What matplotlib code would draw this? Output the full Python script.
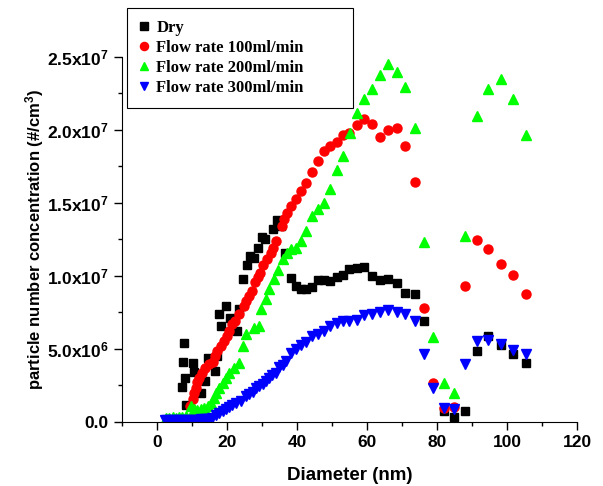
import matplotlib
matplotlib.use("Agg")
import matplotlib.pyplot as plt
from matplotlib.ticker import MultipleLocator

plt.rcParams['font.family'] = ['Liberation Sans', 'DejaVu Sans']
plt.rcParams['mathtext.fontset'] = 'custom'
plt.rcParams['mathtext.bf'] = 'Liberation Sans:bold'
plt.rcParams['mathtext.rm'] = 'Liberation Sans:bold'
plt.rcParams['mathtext.default'] = 'bf'

# Dry
dry_x = [7.3, 7.5, 7.9, 8.1, 8.3, 10.4, 10.7, 12.6, 13.8, 14.7, 16.7, 17.3, 17.8, 18.3,
         19.7, 20.9, 23.0, 23.5, 24.7, 25.7, 26.7, 27.8, 28.8, 29.9, 31.0, 33.1, 34.3,
         35.4, 36.7, 38.3, 39.7, 41.2, 42.6, 44.2, 45.9, 47.8, 49.5, 51.4, 53.1, 55.0,
         57.2, 59.3, 61.5, 63.8, 65.9, 68.5, 71.0, 73.6, 76.2, 81.9, 85.0, 88.1, 91.4,
         94.5, 98.2, 101.7, 105.5]
dry_y = [0.238, 0.41, 0.542, 0.303, 0.115, 0.405, 0.344, 0.20, 0.28, 0.44, 0.348, 0.45,
         0.736, 0.656, 0.793, 0.714, 0.622, 0.771, 0.981, 1.074, 1.136, 1.125, 1.193,
         1.268, 1.25, 1.318, 1.382, 1.341, 1.159, 0.983, 0.93, 0.912, 0.912, 0.926,
         0.971, 0.971, 0.964, 0.992, 1.003, 1.045, 1.056, 1.063, 0.999, 0.971, 0.981,
         0.953, 0.885, 0.873, 0.69, 0.074, 0.033, 0.074, 0.485, 0.588, 0.524, 0.467,
         0.405]

# Flow rate 100 ml/min
f100_x = [9.5, 10.2, 10.7, 11.2, 11.6, 12.1, 12.9, 13.8, 15.0, 15.9, 16.7, 17.3, 18.3,
          19.2, 19.9, 20.7, 21.6, 22.4, 23.5, 25.0, 25.6, 26.4, 27.3, 28.1, 28.8, 29.4,
          30.4, 31.6, 32.6, 33.3, 34.0, 35.7, 36.4, 37.3, 38.3, 39.7, 41.2, 42.6, 44.3,
          45.9, 47.6, 49.5, 51.4, 53.1, 55.0, 57.2, 59.3, 61.5, 63.8, 65.9, 68.5, 71.0,
          73.6, 76.2, 79.0, 81.9, 85.0, 88.1, 91.4, 94.5, 98.2, 101.7, 105.5]
f100_y = [0.108, 0.154, 0.20, 0.234, 0.273, 0.303, 0.337, 0.371, 0.394, 0.412, 0.451,
          0.485, 0.519, 0.553, 0.588, 0.622, 0.668, 0.69, 0.736, 0.793, 0.827, 0.862,
          0.896, 0.958, 0.994, 1.022, 1.072, 1.113, 1.154, 1.193, 1.238, 1.341, 1.387,
          1.433, 1.478, 1.524, 1.581, 1.634, 1.711, 1.786, 1.855, 1.889, 1.916, 1.962,
          1.976, 2.031, 2.077, 2.038, 1.953, 1.999, 2.015, 1.889, 1.645, 0.777, 0.264,
          0.097, 0.101, 0.93, 1.243, 1.182, 1.084, 1.003, 0.873]

# Flow rate 200 ml/min
f200_x = [2.6, 3.5, 4.5, 5.4, 6.4, 7.3, 8.3, 9.7, 10.7, 11.6, 12.6, 13.6, 14.5, 15.4,
          16.4, 17.0, 17.8, 18.8, 19.7, 20.7, 22.1, 23.5, 24.5, 25.5, 27.8, 29.3, 29.7,
          31.2, 32.1, 33.5, 34.7, 35.9, 37.1, 38.3, 39.7, 41.2, 42.6, 44.3, 45.9, 47.6,
          49.5, 51.4, 53.3, 55.2, 57.2, 59.3, 61.5, 63.8, 65.9, 68.5, 71.0, 73.6, 76.2,
          79.0, 82.0, 85.0, 88.1, 91.4, 94.5, 98.2, 101.7, 105.5]
f200_y = [0.029, 0.029, 0.03, 0.029, 0.032, 0.035, 0.04, 0.108, 0.086, 0.08, 0.086,
          0.095, 0.108, 0.132, 0.166, 0.20, 0.234, 0.268, 0.303, 0.337, 0.371, 0.405,
          0.519, 0.599, 0.645, 0.656, 0.771, 0.839, 0.908, 0.976, 1.038, 1.113, 1.159,
          1.182, 1.193, 1.238, 1.307, 1.41, 1.46, 1.501, 1.592, 1.725, 1.821, 1.981,
          2.118, 2.214, 2.277, 2.378, 2.449, 2.396, 2.296, 2.015, 1.234, 0.584, 0.264,
          0.20, 1.273, 2.095, 2.279, 2.347, 2.214, 1.962]

# Flow rate 300 ml/min
f300_x = [2.2, 3.0, 3.8, 4.6, 5.4, 6.2, 7.0, 7.8, 8.6, 9.4, 10.2, 11.0, 11.8, 12.6,
          13.4, 14.2, 15.0, 15.8, 16.9, 17.8, 18.8, 19.7, 20.7, 21.6, 22.6, 24.0, 25.5,
          26.4, 27.4, 28.3, 29.3, 30.2, 31.2, 32.1, 33.0, 34.0, 35.0, 35.9, 36.9, 38.3,
          39.7, 41.2, 42.6, 44.3, 45.9, 47.6, 49.5, 51.4, 53.1, 55.0, 57.2, 59.3, 61.5,
          63.8, 65.9, 68.5, 71.0, 73.6, 76.2, 79.0, 81.9, 85.0, 88.1, 91.4, 94.5, 98.2,
          101.7, 105.5]
f300_y = [0.01, 0.01, 0.012, 0.012, 0.012, 0.013, 0.013, 0.014, 0.014, 0.015, 0.015,
          0.016, 0.016, 0.017, 0.018, 0.02, 0.022, 0.028, 0.045, 0.06, 0.072, 0.086,
          0.10, 0.115, 0.132, 0.142, 0.177, 0.188, 0.205, 0.234, 0.245, 0.262, 0.279,
          0.303, 0.318, 0.337, 0.378, 0.39, 0.416, 0.469, 0.501, 0.524, 0.547, 0.588,
          0.599, 0.622, 0.656, 0.675, 0.69, 0.69, 0.697, 0.729, 0.736, 0.752, 0.766,
          0.752, 0.736, 0.69, 0.462, 0.234, 0.097, 0.086, 0.394, 0.553, 0.56, 0.531,
          0.492, 0.467]

scale = 1e7

fig = plt.figure(figsize=(6.03, 4.86), dpi=100)
ax = fig.add_axes([0.202, 0.132, 0.755, 0.751])

ax.plot(dry_x, [v * scale for v in dry_y], 's', color='black', ms=6, mec='black', label='Dry')
ax.plot(f100_x, [v * scale for v in f100_y], 'o', color='red', ms=6.5, mec='red', label='Flow rate 100ml/min')
ax.plot(f200_x, [v * scale for v in f200_y], '^', color='#00ff00', ms=7, mec='#00ff00', label='Flow rate 200ml/min')
ax.plot(f300_x, [v * scale for v in f300_y], 'v', color='blue', ms=7, mec='blue', label='Flow rate 300ml/min')

ax.set_xlim(-10, 120)
ax.set_ylim(0, 2.5e7)
ax.xaxis.set_major_locator(MultipleLocator(20))
ax.xaxis.set_minor_locator(MultipleLocator(10))
yticks = [0, 5e6, 1e7, 1.5e7, 2e7, 2.5e7]
ylabels = ['0.0', '5.0x10$^6$', '1.0x10$^7$', '1.5x10$^7$', '2.0x10$^7$', '2.5x10$^7$']
ax.set_yticks(yticks)
ax.set_yticklabels(ylabels)
ax.yaxis.set_minor_locator(MultipleLocator(2.5e6))

for lab in ax.get_xticklabels() + ax.get_yticklabels():
    lab.set_fontweight('bold')
    lab.set_fontsize(12.5)

ax.tick_params(which='major', direction='out', length=6, width=1)
ax.tick_params(which='minor', direction='out', length=3, width=1)
ax.spines['top'].set_visible(False)
ax.spines['right'].set_visible(False)

ax.set_xlabel('Diameter (nm)', fontsize=13.5, fontweight='bold', labelpad=12)
ax.set_ylabel('particle number concentration (#/cm$^3$)', fontsize=12, fontweight='bold',
              labelpad=1)

leg = fig.legend(loc='upper left',
                 bbox_to_anchor=(127 / 603, 1 - 108 / 486, 226 / 603, 100 / 486),
                 mode='expand', borderaxespad=0,
                 prop={'family': 'Liberation Serif', 'weight': 'bold', 'size': 12},
                 fancybox=False, edgecolor='black', framealpha=1, handlelength=0.6,
                 handletextpad=0.45, borderpad=0.7, labelspacing=0.25, markerscale=0.9)
leg.get_frame().set_linewidth(0.8)

fig.savefig('out.png', dpi=100)
